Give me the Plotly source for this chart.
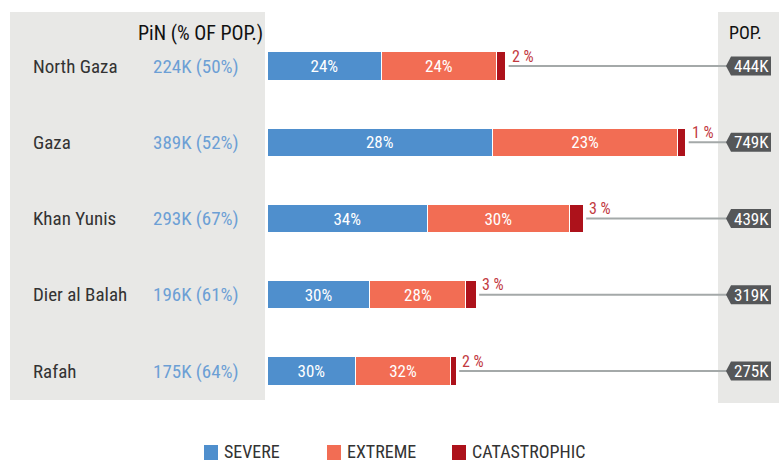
import plotly.graph_objects as go

# data
regions = ["North Gaza", "Gaza", "Khan Yunis", "Dier al Balah", "Rafah"]
pin_k = [224, 389, 293, 196, 175]
pin_pct = [50, 52, 67, 61, 64]
severe_pct = [24, 28, 34, 30, 30]
extreme_pct = [24, 23, 30, 28, 32]
catastrophic_pct = [2, 1, 3, 3, 2]
pop_k = [444, 749, 439, 319, 275]
legend_names = ["SEVERE", "EXTREME", "CATASTROPHIC"]

W, H = 782, 463
FONT = "Roboto Condensed, Liberation Sans Narrow, Roboto, sans-serif"
BLUE = "#4F8FCD"
ORANGE = "#F26D54"
RED = "#AD121B"
COLORS = [BLUE, ORANGE, RED]
GREY_BG = "#E8E8E6"

# pixel mapping (used only for layout placement)
PX_PER_K = 1.075
X0_PX = 267
ROW0_PX = 66
ROW_STEP = 76.25
x_min = -X0_PX / PX_PER_K
x_max = (W - X0_PX) / PX_PER_K
y_top = -ROW0_PX / ROW_STEP
y_bot = (H - ROW0_PX) / ROW_STEP


def px_x(p):
    return (p - X0_PX) / PX_PER_K


def px_y(p):
    return y_top + p / ROW_STEP


rows = list(range(len(regions)))
severe_k = [p * s / 100 for p, s in zip(pop_k, severe_pct)]
extreme_k = [p * s / 100 for p, s in zip(pop_k, extreme_pct)]
cat_k = [p * s / 100 for p, s in zip(pop_k, catastrophic_pct)]
totals = [a + b + c for a, b, c in zip(severe_k, extreme_k, cat_k)]

fig = go.Figure()
for name, vals, pcts, color, show_text in [
    (legend_names[0], severe_k, severe_pct, BLUE, True),
    (legend_names[1], extreme_k, extreme_pct, ORANGE, True),
    (legend_names[2], cat_k, catastrophic_pct, RED, False),
]:
    fig.add_trace(go.Bar(
        name=name,
        y=rows,
        x=vals,
        orientation="h",
        width=0.37,
        marker=dict(color=color, line=dict(color="white", width=1)),
        text=[f"{p}%" for p in pcts] if show_text else None,
        textposition="inside" if show_text else "none",
        insidetextanchor="middle",
        textfont=dict(color="white", size=17, family=FONT),
        hoverinfo="skip",
        showlegend=False,
    ))

shapes = [
    dict(type="rect", xref="paper", yref="paper", x0=10 / W, x1=265 / W,
         y0=1 - 400 / H, y1=1 - 12 / H, fillcolor=GREY_BG, line_width=0, layer="below"),
    dict(type="rect", xref="paper", yref="paper", x0=718 / W, x1=779 / W,
         y0=1 - 403 / H, y1=1 - 12 / H, fillcolor=GREY_BG, line_width=0, layer="below"),
]

annotations = [
    dict(text="PiN (% OF POP.)", xref="paper", yref="paper", x=265 / W, y=1 - 33 / H,
         xanchor="right", yanchor="middle", showarrow=False,
         font=dict(size=20, color="#111111", family=FONT)),
    dict(text="POP.", xref="paper", yref="paper", x=727 / W, y=1 - 33 / H,
         xanchor="left", yanchor="middle", showarrow=False,
         font=dict(size=18, color="#111111", family=FONT)),
]

for i in rows:
    annotations.append(dict(text=regions[i], xref="paper", yref="y", x=31 / W, y=i,
                            xanchor="left", yanchor="middle", showarrow=False,
                            font=dict(size=19, color="#333333", family=FONT)))
    annotations.append(dict(text=f"{pin_k[i]}K ({pin_pct[i]}%)", xref="paper", yref="y",
                            x=151 / W, y=i, xanchor="left", yanchor="middle", showarrow=False,
                            font=dict(size=19, color="#6C9FD5", family=FONT)))
    annotations.append(dict(text=f"{catastrophic_pct[i]} %", x=totals[i] + 4 / PX_PER_K, y=i,
                            xanchor="left", yanchor="middle", yshift=10, showarrow=False,
                            font=dict(size=16, color="#C23A3F", family=FONT)))
    # connector line from bar end to population tag
    shapes.append(dict(type="line", x0=totals[i] + 3 / PX_PER_K, x1=px_x(727), y0=i, y1=i,
                       line=dict(color="#A4A9A9", width=2), layer="below"))
    # population tag
    cy = ROW0_PX + i * ROW_STEP
    pts = [(726, cy), (731, cy - 9.5), (771, cy - 9.5), (771, cy + 9.5), (731, cy + 9.5)]
    path = "M " + " L ".join(f"{px_x(a):.3f},{px_y(b):.4f}" for a, b in pts) + " Z"
    shapes.append(dict(type="path", path=path, fillcolor="#555759", line_width=0))
    annotations.append(dict(text=f"{pop_k[i]}K", x=px_x(751), y=i, xanchor="center",
                            yanchor="middle", showarrow=False,
                            font=dict(size=17, color="white", family=FONT)))

# legend drawn by hand (squares + labels)
legend_x = [204, 327, 452]
for name, color, lx in zip(legend_names, COLORS, legend_x):
    shapes.append(dict(type="rect", xref="paper", yref="paper", x0=lx / W, x1=(lx + 14) / W,
                       y0=1 - 460 / H, y1=1 - 445 / H, fillcolor=color, line_width=0))
    annotations.append(dict(text=name, xref="paper", yref="paper", x=(lx + 19) / W,
                            y=1 - 451 / H, xanchor="left", yanchor="middle", showarrow=False,
                            borderpad=0, font=dict(size=18, color="#333333", family=FONT)))

fig.update_layout(
    width=W, height=H,
    margin=dict(l=0, r=0, t=0, b=0),
    barmode="stack",
    plot_bgcolor="white", paper_bgcolor="white",
    xaxis=dict(range=[x_min, x_max], visible=False, fixedrange=True),
    yaxis=dict(range=[y_bot, y_top], visible=False, fixedrange=True),
    shapes=shapes,
    annotations=annotations,
    showlegend=False,
    font=dict(family=FONT),
)

fig.write_html("out.html", config={"displayModeBar": False},
               post_script="document.body.style.margin='0';")
